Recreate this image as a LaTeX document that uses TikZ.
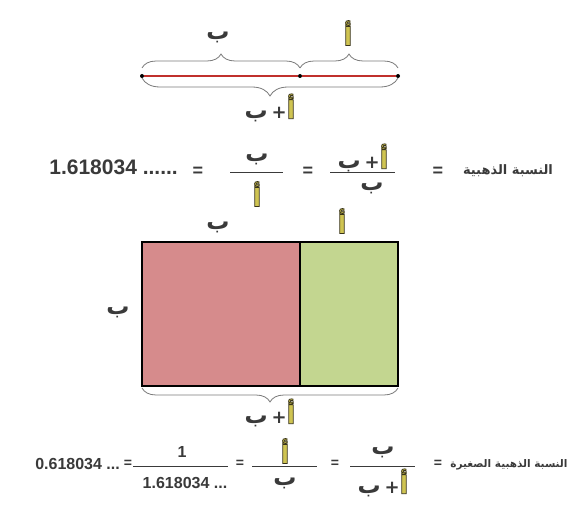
\documentclass[tikz,border=0pt]{standalone}
\usepackage{fontspec}
\setmainfont{Liberation Sans}
\newfontfamily\arabicfont[Script=Arabic]{DejaVu Sans}
\TeXXeTstate=1
\usetikzlibrary{decorations.pathreplacing,calc}
\definecolor{txt}{HTML}{3A3A3A}
\definecolor{alifc}{HTML}{CFC452}
\definecolor{redfill}{HTML}{D68B8C}
\definecolor{greenfill}{HTML}{C3D690}
\definecolor{redline}{HTML}{C0302C}
\definecolor{brcol}{HTML}{7A7A7A}
\newcommand{\alifg}{{\arabicfont\bfseries\fontsize{25}{25}\selectfont\color{alifc}\special{pdf:literal direct 2 Tr 0.8 w 0.22 0.2 0.1 RG}أ\special{pdf:literal direct 0 Tr}}}
\newcommand{\baa}{{\arabicfont\bfseries ب}}
\newcommand{\plusab}{\baa\,{\bfseries\fontsize{18}{18}\selectfont +}\alifg}
\begin{document}
\begin{tikzpicture}[x=1pt,y=-1pt,
  ar/.style={font=\arabicfont\bfseries\fontsize{23}{23}\selectfont, text=txt, inner sep=0pt},
  nm/.style={font=\bfseries\fontsize{21}{23}\selectfont, text=txt, inner sep=0pt},
  nms/.style={font=\bfseries\fontsize{16}{18}\selectfont, text=txt, inner sep=0pt},
  eqs/.style={font=\bfseries\fontsize{18}{18}\selectfont, text=txt, inner sep=0pt},
  eqss/.style={font=\bfseries\fontsize{14}{14}\selectfont, text=txt, inner sep=0pt},
  bar/.style={draw=txt, line width=1pt},
  dotn/.style={circle, fill=black, minimum size=4pt, inner sep=0pt},
  brc/.style={draw=brcol, line width=0.8pt, decorate, decoration={brace, amplitude=#1}},
  brc/.default=14pt
]
\useasboundingbox (0,0) rectangle (574,511);
\fill[white] (0,0) rectangle (574,511);

% ---------- top segment ----------
\node[dotn] (L) at (142,76) {};
\node[dotn] (M) at (300,76) {};
\node[dotn] (R) at (398,76) {};
\draw[redline, line width=1.6pt] (L) -- (M) -- (R);
\draw[brc] ($(L)+(0,-8)$) -- ($(M)+(0,-8)$);
\draw[brc] ($(M)+(0,-8)$) -- ($(R)+(0,-8)$);
\draw[brc=18pt] ($(R)+(0,2)$) -- ($(L)+(0,2)$);
\node[ar] (tb) at (218,37) {ب};
\node[ar] (ta) at (348,33) {\alifg};
\node[ar] (tab) at (270,108) {\plusab};

% ---------- golden ratio row ----------
\node[nm, anchor=base east] (g1) at (178,175) {1.618034 ......};
\node[eqs] (e1) at (198,172) {=};
\draw[bar] (230,173) -- (283,173);
\node[ar] (f1n) at (257,159) {ب};
\node[ar] (f1d) at (257,194) {\alifg};
\node[eqs] (e2) at (308,172) {=};
\draw[bar] (330,173) -- (395,173);
\node[ar] (f2n) at (363,158) {\plusab};
\node[ar] (f2d) at (372,188) {ب};
\node[eqs] (e3) at (438,172) {=};
\node[ar, font=\arabicfont\bfseries\fontsize{13}{13}\selectfont] (gt) at (508,171) {\beginR النسبة الذهبية\endR};

% ---------- rectangle ----------
\fill[redfill] (142,242) rectangle (300,386);
\fill[greenfill] (300,242) rectangle (398,386);
\draw[black, line width=1.4pt] (142,242) rectangle (398,386);
\draw[black, line width=1.2pt] (300,242) -- (300,386);
\node[ar] (rb) at (218,227) {ب};
\node[ar] (ra) at (342,221) {\alifg};
\node[ar] (rl) at (118,312) {ب};
\draw[brc=14pt] (398,388) -- (142,388);
\node[ar] (rab) at (270,413) {\plusab};

% ---------- small golden ratio row ----------
\node[nms, anchor=base east] (s1) at (120,469) {0.618034 ...};
\node[eqss] (se1) at (128,464) {=};
\draw[bar] (133,466) -- (228,466);
\node[nms] (s1n) at (182,452) {1};
\node[nms] (s1d) at (185,483) {1.618034 ...};
\node[eqss] (se2) at (240,464) {=};
\draw[bar] (252,466) -- (317,466);
\node[ar] (s2n) at (285,451) {\alifg};
\node[ar] (s2d) at (285,483) {ب};
\node[eqss] (se3) at (335,464) {=};
\draw[bar] (350,466) -- (415,466);
\node[ar] (s3n) at (383,452) {ب};
\node[ar] (s3d) at (383,483) {\plusab};
\node[eqss] (se4) at (438,464) {=};
\node[ar, font=\arabicfont\bfseries\fontsize{10.5}{10.5}\selectfont] (st) at (509,465) {\beginR النسبة الذهبية الصغيرة\endR};
\end{tikzpicture}
\end{document}
